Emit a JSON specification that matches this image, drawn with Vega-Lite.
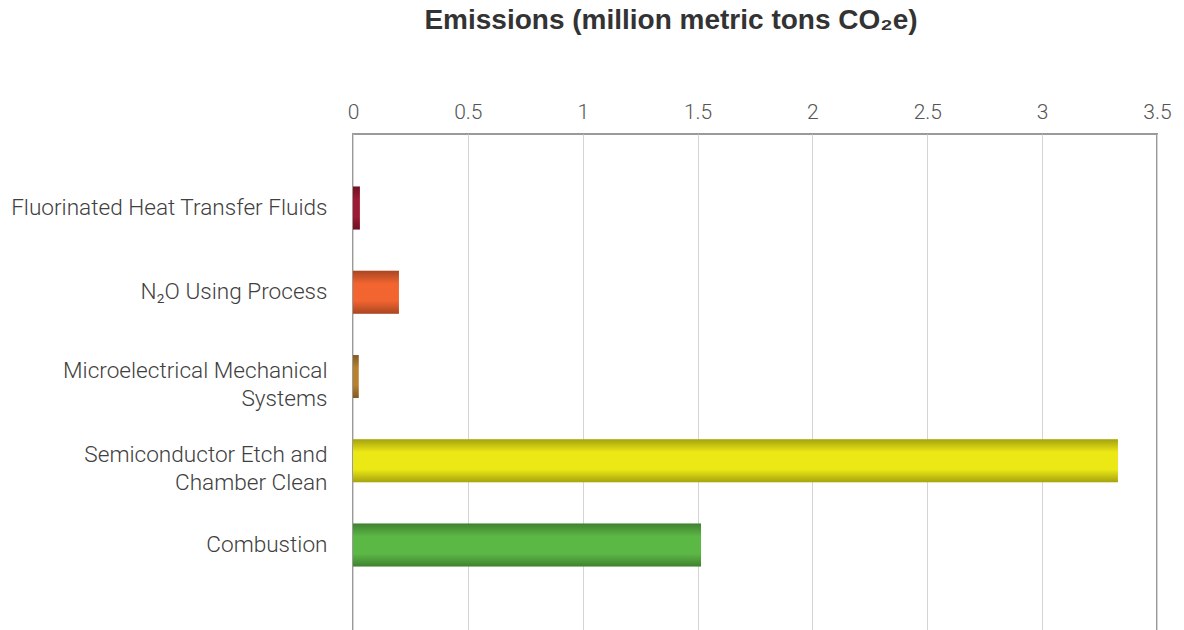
{
  "$schema": "https://vega.github.io/schema/vega-lite/v6.json",
  "width": 804,
  "height": 497,
  "autosize": {"type": "none"},
  "padding": {"left": 353, "top": 134, "right": 27, "bottom": 0},
  "background": "white",
  "title": {
    "text": "Emissions (million metric tons CO₂e)",
    "font": "Liberation Sans",
    "fontSize": 28,
    "fontWeight": "bold",
    "color": "#333333",
    "anchor": "middle",
    "dx": -84,
    "offset": 66
  },
  "data": {
    "values": [
      {"source": "Fluorinated Heat Transfer Fluids", "value": 0.03},
      {"source": "N₂O Using Process", "value": 0.2},
      {"source": "Microelectrical Mechanical|Systems", "value": 0.025},
      {"source": "Semiconductor Etch and|Chamber Clean", "value": 3.33},
      {"source": "Combustion", "value": 1.515}
    ]
  },
  "encoding": {
    "y": {
      "field": "source",
      "type": "nominal",
      "sort": null,
      "scale": {"paddingInner": 0.49, "paddingOuter": 0.694, "align": 0.449},
      "axis": {
        "title": null,
        "domain": false,
        "ticks": false,
        "grid": false,
        "labelPadding": 26,
        "labelLimit": 400,
        "labelFont": "Roboto",
        "labelFontWeight": 300,
        "labelFontSize": 22.6,
        "labelColor": "#404040",
        "labelLineHeight": 28,
        "labelOffset": {"condition": {"test": "indexof(datum.value, '|') >= 0", "value": -6}, "value": 0},
        "labelExpr": "split(datum.label, '|')"
      }
    },
    "x": {
      "field": "value",
      "type": "quantitative",
      "scale": {"domain": [0, 3.5], "nice": false},
      "axis": {
        "orient": "top",
        "title": null,
        "domain": false,
        "ticks": false,
        "grid": true,
        "gridColor": "#d4d4d4",
        "gridWidth": 1,
        "values": [0, 0.5, 1, 1.5, 2, 2.5, 3, 3.5],
        "format": "~g",
        "labelFlush": false,
        "labelPadding": 12,
        "labelFont": "Roboto",
        "labelFontWeight": 300,
        "labelFontSize": 21,
        "labelColor": "#555555"
      }
    }
  },
  "layer": [
    {
      "mark": {"type": "bar"},
      "encoding": {
        "color": {
          "field": "source",
          "type": "nominal",
          "legend": null,
          "scale": {
            "domain": [
              "Fluorinated Heat Transfer Fluids",
              "N₂O Using Process",
              "Microelectrical Mechanical|Systems",
              "Semiconductor Etch and|Chamber Clean",
              "Combustion"
            ],
            "range": ["#9e1a32", "#f26430", "#b9812e", "#ece815", "#5cb845"]
          }
        }
      }
    },
    {
      "mark": {
        "type": "bar",
        "fill": {
          "gradient": "linear",
          "x1": 0, "y1": 0, "x2": 0, "y2": 1,
          "stops": [
            {"offset": 0, "color": "rgba(0,0,0,0.3)"},
            {"offset": 0.3, "color": "rgba(0,0,0,0)"},
            {"offset": 0.7, "color": "rgba(0,0,0,0)"},
            {"offset": 1, "color": "rgba(0,0,0,0.3)"}
          ]
        }
      },
      "encoding": {}
    }
  ],
  "config": {
    "view": {"stroke": "#9a9a9a", "strokeWidth": 2}
  }
}
